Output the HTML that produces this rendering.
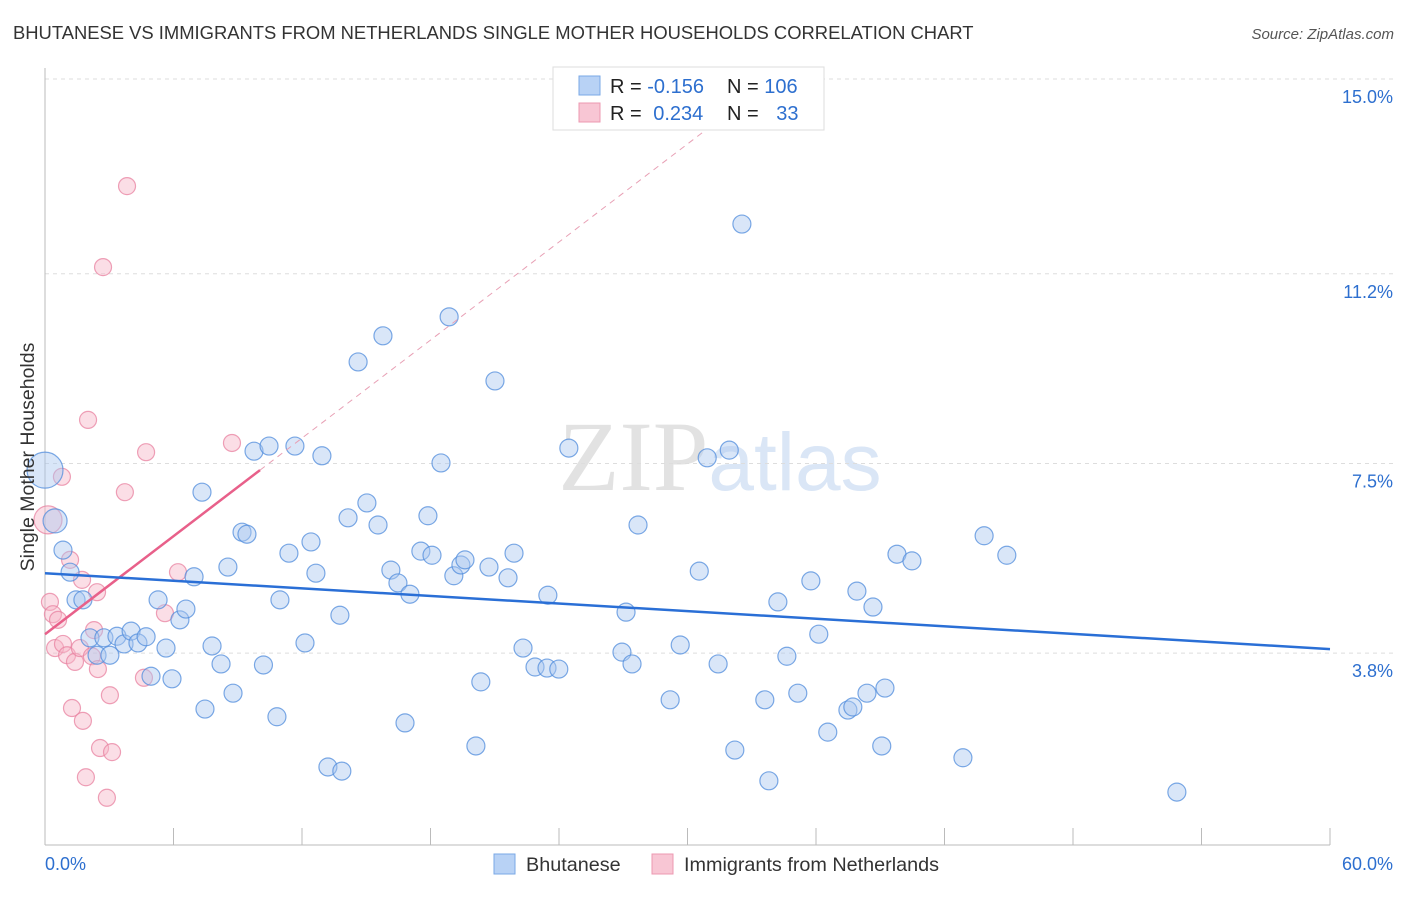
<!DOCTYPE html>
<html><head><meta charset="utf-8">
<style>
body{margin:0;background:#fff;font-family:"Liberation Sans",sans-serif;}
svg text{font-family:"Liberation Sans",sans-serif;}
</style></head>
<body>
<svg id="chart" width="1406" height="892" xmlns="http://www.w3.org/2000/svg">
<text x="13" y="39" font-size="18.4" fill="#333">BHUTANESE VS IMMIGRANTS FROM NETHERLANDS SINGLE MOTHER HOUSEHOLDS CORRELATION CHART</text>
<text x="1394" y="39" font-size="15" fill="#555" text-anchor="end" font-style="italic">Source: ZipAtlas.com</text>
<text x="720" y="490" font-size="100" text-anchor="middle" fill="#e8e8e8"><tspan fill="#e2e2e2" font-family="Liberation Serif">ZIP</tspan><tspan fill="#dae6f6" font-size="82">atlas</tspan></text>
<g id="grid"></g>
<g id="axes"></g>
<g id="marks"></g>
<g>
<rect x="553" y="67" width="271" height="63" fill="#fff" stroke="#ddd"/>
<rect x="579" y="76" width="21" height="19" fill="#b8d2f5" stroke="#7aa8e6"/>
<rect x="579" y="103" width="21" height="19" fill="#f8c6d4" stroke="#ec98b1"/>
<text x="610" y="93" font-size="20" fill="#222">R = <tspan fill="#2d6fcf">-0.156</tspan></text>
<text x="727" y="93" font-size="20" fill="#222">N = <tspan fill="#2d6fcf">106</tspan></text>
<text x="610" y="120" font-size="20" fill="#222">R = <tspan fill="#2d6fcf" dx="6">0.234</tspan></text>
<text x="727" y="120" font-size="20" fill="#222">N = <tspan fill="#2d6fcf" dx="12">33</tspan></text>
</g>
<text transform="translate(34,457) rotate(-90)" font-size="19.5" fill="#333" text-anchor="middle">Single Mother Households</text>
<g>
<rect x="494" y="854" width="21" height="20" fill="#b8d2f5" stroke="#7aa8e6"/>
<text x="526" y="871" font-size="19.8" fill="#333">Bhutanese</text>
<rect x="652" y="854" width="21" height="20" fill="#f8c6d4" stroke="#ec98b1"/>
<text x="684" y="871" font-size="19.8" fill="#333">Immigrants from Netherlands</text>
</g>
</svg>
<script>
const yTicks=[15.0,11.2,7.5,3.8];
const yTickLabels=["15.0%","11.2%","7.5%","3.8%"];
const xLabels=["0.0%","60.0%"];
const blueX=[0,0.47,0.84,1.17,1.45,1.77,2.1,2.43,2.75,3.03,3.36,3.69,4.02,4.34,4.72,4.95,5.28,5.65,5.93,6.3,6.58,6.96,7.33,7.47,7.8,8.22,8.54,8.78,9.2,9.43,9.76,10.2,10.46,10.83,10.97,11.39,11.67,12.14,12.42,12.65,12.93,13.21,13.77,13.86,14.15,14.62,15.03,15.55,15.78,16.15,16.48,16.81,17.04,17.55,17.88,18.07,18.49,18.87,19.09,19.42,19.61,20.12,20.35,20.73,21.01,21.62,21.9,22.32,22.88,23.48,23.44,23.99,24.46,26.94,27.13,27.41,27.69,29.19,29.66,30.55,30.92,31.43,31.95,32.21,32.54,33.61,33.8,34.22,34.64,35.15,35.76,36.13,36.55,37.49,37.72,37.91,38.38,38.66,39.07,39.22,39.78,40.48,42.86,43.85,44.91,52.85];
const blueY=[7.37,6.38,5.81,5.38,4.84,4.84,4.1,3.76,4.1,3.76,4.13,3.98,4.23,4.0,4.12,3.35,4.84,3.9,3.3,4.45,4.66,5.29,6.94,2.71,3.94,3.59,5.48,3.02,6.16,6.12,7.74,3.57,7.84,2.56,4.84,5.75,7.84,4.0,5.97,5.36,7.65,1.58,4.54,1.5,6.44,9.48,6.73,6.3,9.99,5.42,5.17,2.44,4.95,5.79,6.48,5.71,7.51,10.36,5.31,5.52,5.62,1.99,3.24,5.48,9.11,5.27,5.75,3.9,3.53,4.93,3.51,3.49,7.8,3.82,4.6,3.59,6.3,2.89,3.96,5.4,7.61,3.59,7.76,1.91,12.17,2.89,1.31,4.8,3.74,3.02,5.21,4.17,2.26,2.69,2.75,5.01,3.02,4.7,1.99,3.12,5.73,5.6,1.76,6.09,5.71,1.09];
const pinkX=[0.14,0.23,0.37,0.47,0.61,0.79,0.84,1.03,1.17,1.26,1.4,1.63,1.73,1.77,1.91,2.01,2.19,2.29,2.43,2.47,2.57,2.71,2.89,3.03,3.13,3.73,3.83,4.62,4.72,5.6,6.21,8.73];
const pinkY=[6.4,4.8,4.56,3.9,4.45,7.24,3.98,3.76,5.62,2.73,3.63,3.9,5.23,2.48,1.38,8.35,3.74,4.25,4.99,3.49,1.95,11.33,0.98,2.98,1.87,6.94,12.91,3.32,7.72,4.58,5.38,7.9];
const blueTrend=[5.36,3.88];
const pinkTrend=[4.17,7.37];
const pinkTrendEnd=10.04;

const NS="http://www.w3.org/2000/svg";
const X=v=>45+v*(1285/60);
const Y=v=>848-v*51.27;
function mk(tag,attrs,parent){const e=document.createElementNS(NS,tag);for(const k in attrs)e.setAttribute(k,attrs[k]);parent.appendChild(e);return e;}
const grid=document.getElementById('grid'),axes=document.getElementById('axes'),marks=document.getElementById('marks');
yTicks.forEach((t,i)=>{
  const l=mk('line',{x1:45,x2:1394,y1:Y(t),y2:Y(t),stroke:'#ddd','stroke-dasharray':'4,4'},grid);
  
  
  const tx=mk('text',{x:1393,y:Y(t)+24,'font-size':18,fill:'#2d6fcf','text-anchor':'end'},axes);
  tx.textContent=yTickLabels[i];
  
  
});
const ax=mk('line',{x1:45,x2:1330,y1:845,y2:845,stroke:'#bbb'},axes);


const ay=mk('line',{x1:45,x2:45,y1:68,y2:845,stroke:'#bbb'},axes);


for(let i=0;i<=10;i++){
  const v=i*6;
  const t=mk('line',{x1:X(v),x2:X(v),y1:828,y2:845,stroke:'#bbb'},axes);
  
  
}
const xl0=mk('text',{x:45,y:870,'font-size':18,fill:'#2d6fcf'},axes);xl0.textContent=xLabels[0];


const xl1=mk('text',{x:1393,y:870,'font-size':18,fill:'#2d6fcf','text-anchor':'end'},axes);xl1.textContent=xLabels[1];



pinkX.forEach((x,i)=>{
  const big=i===0;
  const c=mk('circle',{cx:X(x),cy:Y(pinkY[i]),r:big?14:8.5,fill:'rgba(246,182,200,0.45)',stroke:'rgba(232,130,160,0.75)','stroke-width':1.2},marks);
  
  
});
blueX.forEach((x,i)=>{
  const big=i===0, mid=i===1;
  const c=mk('circle',{cx:X(x),cy:Y(blueY[i]),r:big?18:(mid?12:9),fill:'rgba(170,200,240,0.45)',stroke:'rgba(80,140,220,0.75)','stroke-width':1.2},marks);
  
  
});
const slope=(pinkTrend[1]-pinkTrend[0])/pinkTrendEnd;
const xEnd=(14.4-pinkTrend[0])/slope;
const pd=mk('line',{x1:X(pinkTrendEnd),y1:Y(pinkTrend[1]),x2:X(xEnd),y2:Y(pinkTrend[0]+slope*xEnd),stroke:'#e8a0b5','stroke-width':1,'stroke-dasharray':'6,5'},marks);


const pl=mk('line',{x1:X(0),y1:Y(pinkTrend[0]),x2:X(pinkTrendEnd),y2:Y(pinkTrend[1]),stroke:'#e8608a','stroke-width':2.5},marks);


const bl=mk('line',{x1:X(0),y1:Y(blueTrend[0]),x2:X(60),y2:Y(blueTrend[1]),stroke:'#2a6fd6','stroke-width':2.5},marks);


</script>
</body></html>
